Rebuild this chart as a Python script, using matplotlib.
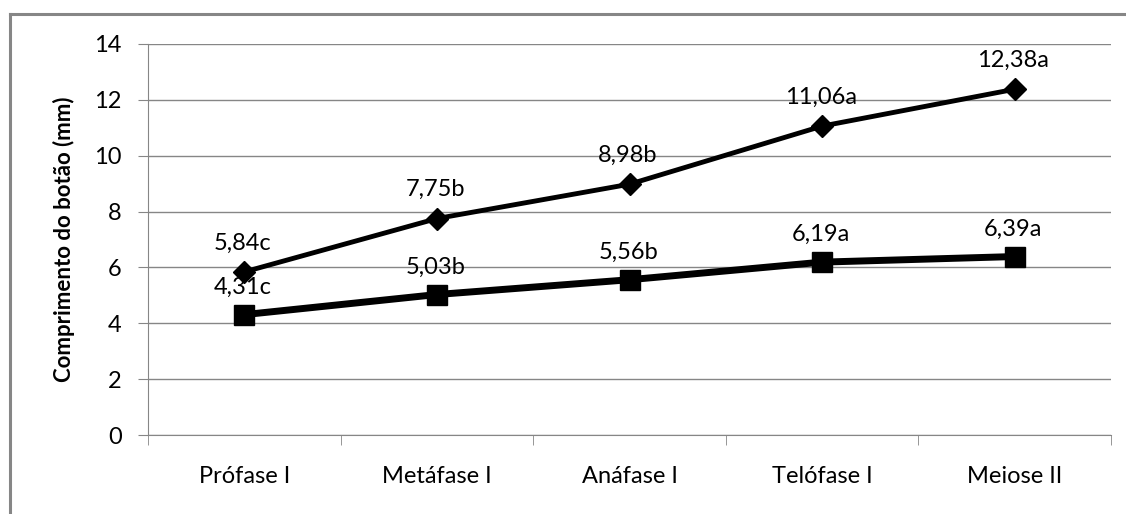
import matplotlib.pyplot as plt
import numpy as np

# fases da meiose e comprimento medio do botao floral (mm)
fases = ["Prófase I", "Metáfase I", "Anáfase I", "Telófase I", "Meiose II"]
comp_max = [5.84, 7.75, 8.98, 11.06, 12.38]
letras_max = ["c", "b", "b", "a", "a"]
comp_min = [4.31, 5.03, 5.56, 6.19, 6.39]
letras_min = ["c", "b", "b", "a", "a"]

plt.rcParams['font.family'] = ['Lato', 'DejaVu Sans']
cinza = "#868686"
fs = 17

fig = plt.figure(figsize=(11.26, 5.14), dpi=100)
ax = fig.add_axes([148/1126, 1-435/514, 963/1126, 391/514])

x = np.arange(len(fases))
ax.plot(x, comp_max, color="black", lw=3.5, marker="D", ms=11, zorder=3)
ax.plot(x, comp_min, color="black", lw=5, marker="s", ms=15, zorder=3)

# rotulos com valor e letra do teste de medias
for xi, v, l in zip(x, comp_max, letras_max):
    ax.annotate(("%.2f" % v).replace(".", ",") + l, (xi, v), xytext=(-1, 16),
                textcoords="offset points", ha="center", va="baseline", fontsize=fs)
for xi, v, l in zip(x, comp_min, letras_min):
    ax.annotate(("%.2f" % v).replace(".", ",") + l, (xi, v), xytext=(-1, 15),
                textcoords="offset points", ha="center", va="baseline", fontsize=fs)

ax.set_xlim(-0.5, len(fases) - 0.5)
ax.set_ylim(0, 14)
ax.set_yticks(range(0, 15, 2))
ax.set_xticks(x)
ax.set_xticklabels(fases, fontsize=fs)
ax.set_xticks(np.arange(-0.5, len(fases)), minor=True)
ax.tick_params(axis="x", which="major", length=0, pad=22)
ax.tick_params(axis="x", which="minor", length=7, color=cinza, direction="out")
ax.tick_params(axis="y", length=7, color=cinza, labelsize=fs, pad=12)
ax.yaxis.grid(True, color=cinza, lw=1)
ax.set_axisbelow(True)
for s in ["top", "right"]:
    ax.spines[s].set_visible(False)
for s in ["left", "bottom"]:
    ax.spines[s].set_color(cinza)
ax.set_ylabel("Comprimento do botão (mm)", fontsize=16, fontweight="bold", labelpad=14)

# moldura do grafico
fig.add_artist(plt.Line2D([10/1126, 10/1126], [0, 1-14/514], color=cinza, lw=2.2))
fig.add_artist(plt.Line2D([10/1126, 1], [1-14/514, 1-14/514], color=cinza, lw=2.2))

fig.savefig("out.png", dpi=100)
